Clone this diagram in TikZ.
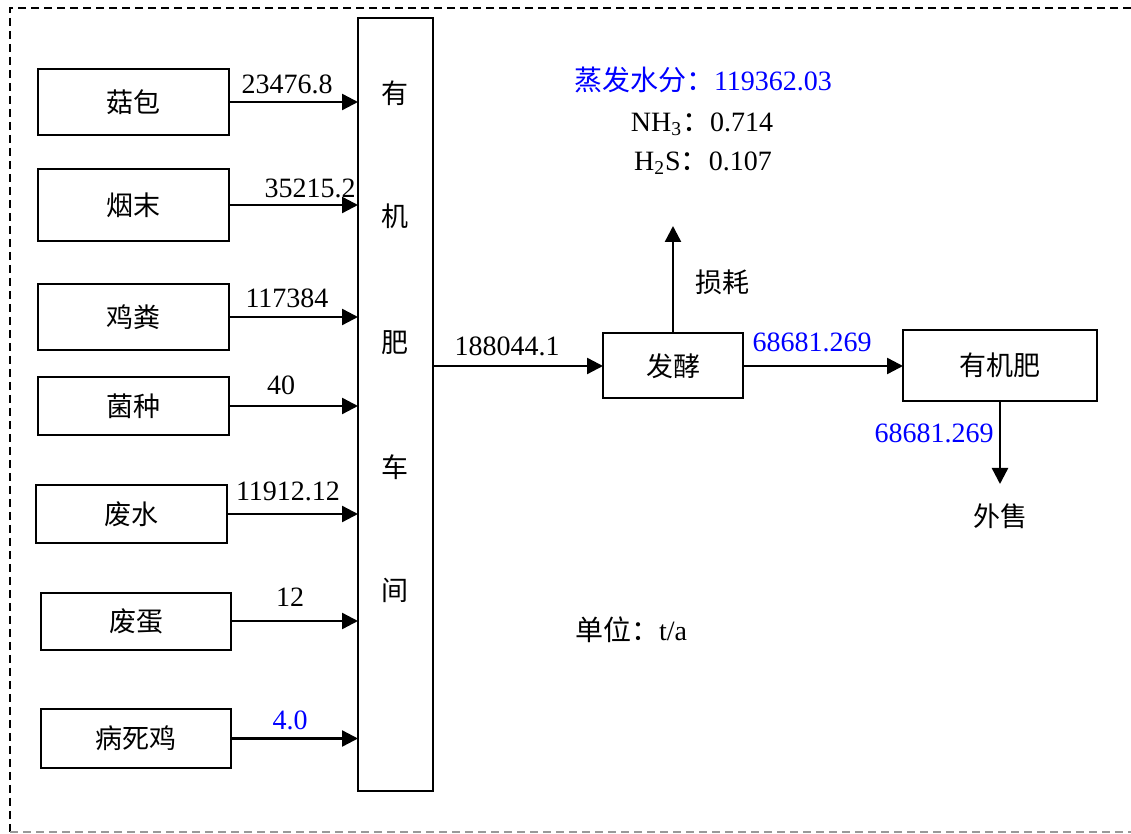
\documentclass[tikz,border=0pt]{standalone}
\usepackage{fontspec}
\setmainfont{Liberation Serif}
\newfontfamily\cjk{Noto Sans CJK SC}
\usetikzlibrary{arrows.meta}
\definecolor{FlowBlue}{rgb}{0.0,0.0,1.0}
\definecolor{Frame60}{rgb}{0.6,0.6,0.6}

\tikzset{
  unitbox/.style={draw, line width=1pt, inner sep=0pt, outer sep=0pt,
    font=\fontsize{13.5}{15}\selectfont\cjk},
  flow/.style={line width=1.2pt, -{Triangle[length=8pt,width=8pt]}},
  hanzi/.style={font=\fontsize{13.5}{15}\selectfont\cjk},
  frameline/.style={line width=0.6pt, dash pattern=on 4pt off 2.5pt},
}

\begin{document}
\begin{tikzpicture}[x=0.5pt, y=-0.5pt, font=\fontsize{14}{16}\selectfont]

\useasboundingbox (0,0) rectangle (1131,834);

% ============================================================
% Dashed frame (open on the right)
% ============================================================
\draw[frameline] (1131,8) -- (10,8) -- (10,832);
\draw[frameline, Frame60] (10,832) -- (1131,832);

% ============================================================
% Workshop column
% ============================================================
\node[unitbox, minimum width=37.5pt, minimum height=386.5pt] (shop) at (395.5,404.5) {};
\foreach \ch/\yy in {有/93, 机/216, 肥/343, 车/467, 间/590}{%
  \node[hanzi] at (395,\yy) {\ch};
}

% ============================================================
% Raw materials (left column)
% ============================================================
\node[unitbox, minimum width=95.5pt, minimum height=33pt] (gubao)   at (133.5,102) {菇包};
\node[unitbox, minimum width=95.5pt, minimum height=36pt] (yanmo)   at (133.5,205) {烟末};
\node[unitbox, minimum width=95.5pt, minimum height=33pt] (jifen)   at (133.5,317) {鸡粪};
\node[unitbox, minimum width=95.5pt, minimum height=29pt] (junzhong) at (133.5,406) {菌种};
\node[unitbox, minimum width=95.5pt, minimum height=29pt] (feishui) at (131.5,514) {废水};
\node[unitbox, minimum width=95pt,   minimum height=28.5pt] (feidan) at (136,621) {废蛋};
\node[unitbox, minimum width=95pt,   minimum height=29.5pt] (bingji) at (136,738.5) {病死鸡};

% inputs into the workshop
\draw[flow] (gubao.east)    -- (gubao.east -| shop.west);
\draw[flow] (yanmo.east)    -- (yanmo.east -| shop.west);
\draw[flow] (jifen.east)    -- (jifen.east -| shop.west);
\draw[flow] (junzhong.east) -- (junzhong.east -| shop.west);
\draw[flow] (feishui.east)  -- (feishui.east -| shop.west);
\draw[flow] (feidan.east)   -- (feidan.east -| shop.west);
\draw[flow] (bingji.east)   -- (bingji.east -| shop.west);

% quantities
\node (q1) at (287,84)  {23476.8};
\node (q2) at (310,188) {35215.2};
\node (q3) at (287,298) {117384};
\node (q4) at (281,385) {40};
\node (q5) at (288,491) {11912.12};
\node (q6) at (290,597) {12};
\node[FlowBlue] (q7) at (290,720) {4.0};

% ============================================================
% Fermentation and product
% ============================================================
\node[unitbox, minimum width=70pt, minimum height=32.5pt] (fajiao) at (673,366) {发酵};
\node[unitbox, minimum width=97pt, minimum height=35.5pt] (fei)    at (1000,365.5) {有机肥};

\draw[flow] (shop.east |- fajiao.west) -- (fajiao.west);
\node (qmix) at (507,346) {188044.1};

\draw[flow] (fajiao.east) -- (fajiao.east -| fei.west);
\node[FlowBlue] (qfer) at (812,342) {68681.269};

% losses (upwards)
\coordinate (lossend) at (673,226);
\draw[flow] (fajiao.north) -- (lossend);
\node[hanzi] (loss) at (722,282) {损耗};
\node[FlowBlue] (evap) at (703,80) {{\cjk 蒸发水分：}119362.03};
\node (nh3) at (702,124) {NH\textsubscript{3}{\cjk ：}0.714};
\node (h2s) at (703,163) {H\textsubscript{2}S{\cjk ：}0.107};

% sales (downwards)
\coordinate (saleend) at (1000,484);
\draw[flow] (fei.south) -- (saleend);
\node[FlowBlue] (qsale) at (934,433) {68681.269};
\node[hanzi] (sale) at (1000,516) {外售};

% unit
\node (unit) at (631,630) {{\cjk 单位：}t/a};

\end{tikzpicture}
\end{document}
